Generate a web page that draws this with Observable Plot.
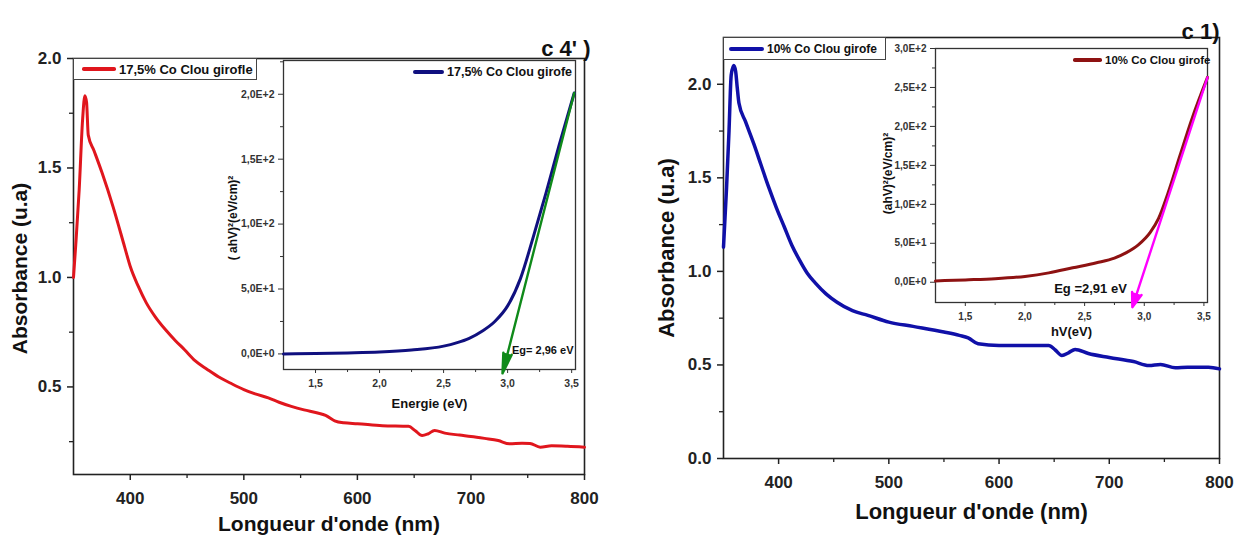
<!DOCTYPE html>
<html>
<head>
<meta charset="utf-8">
<script src="https://cdn.jsdelivr.net/npm/d3@7"></script>
<script src="https://cdn.jsdelivr.net/npm/@observablehq/plot@0.6"></script>
<style>
  body { margin: 0; background: white; }
  #chart { position: relative; width: 1235px; height: 542px; overflow: hidden; background: white; font-family: "Liberation Sans", Arial, sans-serif; }
  .panel { position: absolute; }
  .panel svg { overflow: visible; }
  .legend { position: absolute; display: flex; align-items: center; box-sizing: border-box; white-space: nowrap; color: #111; font-weight: bold; }
  .legend .swatch { display: inline-block; }
</style>
</head>
<body>
<div id="chart"></div>
<script>
// ---------- data ----------
// Left panel (17,5% Co Clou girofle): absorbance vs wavelength
const redWavelength = [350, 352, 355, 358, 360, 361.5, 363, 368, 375, 385, 395, 400, 407, 414, 422, 430.7, 440, 447.6, 457, 467.8, 478, 488, 500, 510, 521.6, 531, 541.8, 553, 565, 572, 580, 588, 600, 622, 645, 651, 657, 662, 668, 677, 690, 700, 712, 724, 734, 745, 752, 761, 771, 785, 800];
const redAbsorbance = [1.00, 1.15, 1.40, 1.72, 1.83, 1.80, 1.65, 1.58, 1.48, 1.32, 1.14, 1.05, 0.96, 0.885, 0.82, 0.763, 0.71, 0.671, 0.62, 0.58, 0.545, 0.518, 0.488, 0.468, 0.45, 0.43, 0.411, 0.395, 0.381, 0.37, 0.345, 0.336, 0.332, 0.323, 0.320, 0.30, 0.278, 0.285, 0.301, 0.289, 0.28, 0.274, 0.265, 0.255, 0.24, 0.243, 0.242, 0.225, 0.231, 0.229, 0.225];

// Right panel (10% Co Clou girofe): absorbance vs wavelength
const blueWavelength = [350, 352.8, 355, 357, 359.3, 361, 362.5, 364, 370, 377.6, 384, 391, 398, 405, 412, 419, 426, 433, 443, 453, 467, 481, 500, 522, 550, 564, 572, 581, 600, 645, 651, 657, 663, 669, 681, 700, 722, 736, 746.5, 760, 771, 790, 800];
const blueAbsorbance = [1.13, 1.45, 1.75, 2.05, 2.10, 2.07, 1.98, 1.90, 1.80, 1.68, 1.57, 1.45, 1.34, 1.24, 1.14, 1.06, 0.99, 0.94, 0.88, 0.835, 0.79, 0.765, 0.729, 0.706, 0.676, 0.658, 0.645, 0.613, 0.604, 0.604, 0.58, 0.551, 0.565, 0.583, 0.561, 0.540, 0.518, 0.497, 0.503, 0.485, 0.488, 0.488, 0.479];

// Left inset: (ahV)^2 vs energy
const insetLeftEnergy = [1.25, 1.5, 1.75, 2.0, 2.25, 2.5, 2.6, 2.7, 2.8, 2.9, 3.0, 3.1, 3.2, 3.3, 3.4, 3.52];
const insetLeftValue  = [0, 0.3, 0.8, 1.5, 3, 6, 8.5, 12, 17.5, 25, 37, 58, 90, 124, 160, 201];

// Right inset: (ahV)^2 vs energy
const insetRightEnergy = [1.25, 1.5, 1.75, 2.0, 2.2, 2.4, 2.6, 2.75, 2.85, 2.95, 3.05, 3.12, 3.2, 3.3, 3.4, 3.53];
const insetRightValue  = [1.7, 3, 4.5, 7.5, 12, 18.5, 25, 31, 38, 48, 64, 82, 115, 163, 210, 263];

// Tangent (band-gap) arrows: start on the curve, end at the gap energy
const tangentLeft  = [{x1: 3.52, y1: 201, x2: 2.96, y2: -15}];
const tangentRight = [{x1: 3.53, y1: 263, x2: 2.90, y2: -32}];

// Ticks and tick labels
const mainXTicks = [400, 500, 600, 700, 800];
const mainXMinor = [450, 550, 650, 750];
const leftYTicks = [0.5, 1.0, 1.5, 2.0];
const leftYLabels = ["0.5", "1.0", "1.5", "2.0"];
const rightYTicks = [0, 0.5, 1.0, 1.5, 2.0];
const rightYLabels = ["0.0", "0.5", "1.0", "1.5", "2.0"];
const mainYMinor = [0.25, 0.75, 1.25, 1.75];
const insetXTicks = [1.5, 2.0, 2.5, 3.0, 3.5];
const insetXLabels = ["1,5", "2,0", "2,5", "3,0", "3,5"];
const insetXMinor = [1.75, 2.25, 2.75, 3.25];
const insetLeftYTicks = [0, 50, 100, 150, 200];
const insetLeftYLabels = ["0,0E+0", "5,0E+1", "1,0E+2", "1,5E+2", "2,0E+2"];
const insetLeftYMinor = [25, 75, 125, 175, 225];
const insetRightYTicks = [0, 50, 100, 150, 200, 250, 300];
const insetRightYLabels = ["0,0E+0", "5,0E+1", "1,0E+2", "1,5E+2", "2,0E+2", "2,5E+2", "3,0E+2"];
const insetRightYMinor = [25, 75, 125, 175, 225, 275];

// Texts
const panelTitles = ["c 4' )", "c 1)"];
const legendLabels = ["17,5% Co Clou girofle", "17,5% Co Clou girofe", "10% Co Clou girofe", "10% Co Clou girofe"];
const gapLabels = ["Eg= 2,96 eV", "Eg =2,91 eV"];

// ---------- helpers ----------
const SANS = "Liberation Sans, Arial, sans-serif";
const NARROW = "Liberation Sans Narrow, Arial Narrow, Liberation Sans, sans-serif";
const fmt = (ticks, labels) => { const m = new Map(ticks.map((t, i) => [t, labels[i]])); return d => m.get(d) ?? ""; };
const series = (xs, ys) => xs.map((x, i) => ({x, y: ys[i]}));
const AXIS = "#222";

function mainPanel({width, marginLeft, marginRight, marginTop, marginBottom, yDomain, yTicks, yLabels, data, color, sw, title, titleDx, titleDy, yLabelDx, yLabelDy, xLabelDy, labelSize}) {
  return Plot.plot({
    width, height: 542, marginLeft, marginRight, marginTop, marginBottom,
    style: {background: "transparent", fontFamily: SANS, overflow: "visible"},
    x: {domain: [350, 800]},
    y: {domain: yDomain},
    marks: [
      Plot.axisX({ticks: mainXTicks, tickFormat: d => String(d), tickSize: 6, tickPadding: 11, strokeWidth: 1.5, color: AXIS, fontSize: 17, fontWeight: "bold", fontFamily: SANS, label: null}),
      Plot.axisX({ticks: mainXMinor, tickFormat: () => "", tickSize: 4, strokeWidth: 1.3, color: AXIS, label: null}),
      Plot.axisY({ticks: yTicks, tickFormat: fmt(yTicks, yLabels), tickSize: 6, tickPadding: 6, strokeWidth: 1.5, color: AXIS, fontSize: 17, fontWeight: "bold", fontFamily: SANS, label: null}),
      Plot.axisY({ticks: mainYMinor, tickFormat: () => "", tickSize: 4, strokeWidth: 1.3, color: AXIS, label: null}),
      Plot.frame({stroke: AXIS, strokeWidth: 1.6}),
      Plot.line(data, {x: "x", y: "y", stroke: color, strokeWidth: sw, curve: "monotone-x"}),
      Plot.text(["Absorbance (u.a)"], {frameAnchor: "left", textAnchor: "middle", rotate: -90, dx: yLabelDx, dy: yLabelDy, fontSize: labelSize, fontWeight: "bold", fill: "#111"}),
      Plot.text(["Longueur d'onde (nm)"], {frameAnchor: "bottom", textAnchor: "middle", dy: xLabelDy, fontSize: labelSize, fontWeight: "bold", fill: "#111"}),
      Plot.text([title], {frameAnchor: "top-right", textAnchor: "end", dx: titleDx, dy: titleDy, fontSize: 22, fontWeight: "bold", fill: "#111"})
    ]
  });
}

function insetPanel({width, height, marginLeft, marginRight, marginTop, marginBottom, yDomain, yTicks, yLabels, yMinor, data, color, tangent, arrowColor, headLength, headAngle, yLabel, yLabelDx, yLabelDy, xLabel, xLabelDy, gap, gapOpts, tickFont}) {
  return Plot.plot({
    width, height, marginLeft, marginRight, marginTop, marginBottom,
    style: {background: "transparent", fontFamily: NARROW, overflow: "visible"},
    x: {domain: [1.25, 3.53]},
    y: {domain: yDomain},
    marks: [
      Plot.frame({fill: "white", stroke: "#333", strokeWidth: 1.3}),
      Plot.axisX({ticks: insetXTicks, tickFormat: fmt(insetXTicks, insetXLabels), tickSize: 4, tickPadding: 6, color: "#333", fontSize: tickFont, fontWeight: "bold", fontFamily: NARROW, label: null}),
      Plot.axisX({ticks: insetXMinor, tickFormat: () => "", tickSize: 3, color: "#333", label: null}),
      Plot.axisY({ticks: yTicks, tickFormat: fmt(yTicks, yLabels), tickSize: 5, tickPadding: 4, color: "#333", fontSize: tickFont, fontWeight: "bold", fontFamily: NARROW, label: null}),
      Plot.axisY({ticks: yMinor, tickFormat: () => "", tickSize: 3, color: "#333", label: null}),
      Plot.line(data, {x: "x", y: "y", stroke: color, strokeWidth: 3, curve: "monotone-x"}),
      Plot.arrow(tangent, {x1: "x1", y1: "y1", x2: "x2", y2: "y2", stroke: arrowColor, fill: arrowColor, strokeWidth: 2.4, headLength, headAngle, clip: false}),
      Plot.text([yLabel], {frameAnchor: "left", textAnchor: "middle", rotate: -90, dx: yLabelDx, dy: yLabelDy, fontSize: 12, fontWeight: "bold", fontFamily: SANS, fill: "#111"}),
      Plot.text([xLabel], {frameAnchor: "bottom", textAnchor: "middle", dy: xLabelDy, fontSize: 13, fontWeight: "bold", fill: "#111"}),
      Plot.text([gap], {...gapOpts, fontWeight: "bold", fill: "#111"})
    ]
  });
}

function place(node, left, top) {
  const d = document.createElement("div");
  d.className = "panel";
  d.style.left = left + "px";
  d.style.top = top + "px";
  d.appendChild(node);
  document.getElementById("chart").appendChild(d);
}

function legend({left, top, width, height, border, swLeft, swWidth, swHeight, color, text, fontSize}) {
  const d = document.createElement("div");
  d.className = "legend";
  Object.assign(d.style, {left: left + "px", top: top + "px", width: width + "px", height: height + "px", border: border ? "1px solid #444" : "none", background: border ? "white" : "transparent", fontSize: fontSize + "px", paddingLeft: swLeft + "px"});
  const s = document.createElement("span");
  s.className = "swatch";
  Object.assign(s.style, {width: swWidth + "px", height: swHeight + "px", background: color, borderRadius: (swHeight / 2) + "px", marginRight: "3px"});
  const t = document.createElement("span");
  t.textContent = text;
  d.appendChild(s); d.appendChild(t);
  document.getElementById("chart").appendChild(d);
}

// ---------- left panel ----------
place(mainPanel({
  width: 620, marginLeft: 73, marginRight: 36, marginTop: 58, marginBottom: 68,
  yDomain: [0.1, 2.0], yTicks: leftYTicks, yLabels: leftYLabels,
  data: series(redWavelength, redAbsorbance), color: "#e0161d", sw: 3,
  title: panelTitles[0], titleDx: 6, titleDy: -18, yLabelDx: -53, yLabelDy: 2, xLabelDy: 56, labelSize: 21
}), 0, 0);

place(insetPanel({
  width: 400, height: 380, marginLeft: 83, marginRight: 25, marginTop: 20, marginBottom: 51,
  yDomain: [-12, 226], yTicks: insetLeftYTicks, yLabels: insetLeftYLabels, yMinor: insetLeftYMinor,
  data: series(insetLeftEnergy, insetLeftValue), color: "#10107f",
  tangent: tangentLeft, arrowColor: "#0f8a1a", headLength: 13, headAngle: 24,
  yLabel: "( ahV)²(eV/cm)²", yLabelDx: -50, yLabelDy: 3,
  xLabel: "Energie (eV)", xLabelDy: 38,
  gap: gapLabels[0], gapOpts: {frameAnchor: "bottom-right", textAnchor: "end", dx: -2, dy: -16, fontSize: 11},
  tickFont: 10.5
}), 200, 40);

legend({left: 73, top: 58, width: 184, height: 22, border: true, swLeft: 8, swWidth: 34, swHeight: 3.5, color: "#e0161d", text: legendLabels[0], fontSize: 13});
legend({left: 413, top: 62, width: 165, height: 20, border: false, swLeft: 0, swWidth: 31, swHeight: 4.5, color: "#10107f", text: legendLabels[1], fontSize: 12.5});

// ---------- right panel ----------
place(mainPanel({
  width: 615, marginLeft: 103, marginRight: 16, marginTop: 37, marginBottom: 84,
  yDomain: [0, 2.25], yTicks: rightYTicks, yLabels: rightYLabels,
  data: series(blueWavelength, blueAbsorbance), color: "#1010a8", sw: 3.5,
  title: panelTitles[1], titleDx: 0, titleDy: -14, yLabelDx: -57, yLabelDy: 0, xLabelDy: 60, labelSize: 22
}), 620, 0);

place(insetPanel({
  width: 395, height: 330, marginLeft: 95, marginRight: 28, marginTop: 18, marginBottom: 58,
  yDomain: [-26, 300], yTicks: insetRightYTicks, yLabels: insetRightYLabels, yMinor: insetRightYMinor,
  data: series(insetRightEnergy, insetRightValue), color: "#8e1212",
  tangent: tangentRight, arrowColor: "#ff00ff", headLength: 9.5, headAngle: 38,
  yLabel: "(ahV)²(eV/cm)²", yLabelDx: -47, yLabelDy: -2,
  xLabel: "hV(eV)", xLabelDy: 33,
  gap: gapLabels[1], gapOpts: {frameAnchor: "bottom", textAnchor: "middle", dx: 19, dy: -10, fontSize: 13},
  tickFont: 10
}), 840, 30);

legend({left: 723, top: 37, width: 163, height: 23, border: true, swLeft: 5, swWidth: 35, swHeight: 4, color: "#1010a8", text: legendLabels[2], fontSize: 12});
legend({left: 1073, top: 51, width: 140, height: 18, border: false, swLeft: 0, swWidth: 29, swHeight: 3.5, color: "#8e1212", text: legendLabels[3], fontSize: 11.5});
</script>
</body>
</html>
